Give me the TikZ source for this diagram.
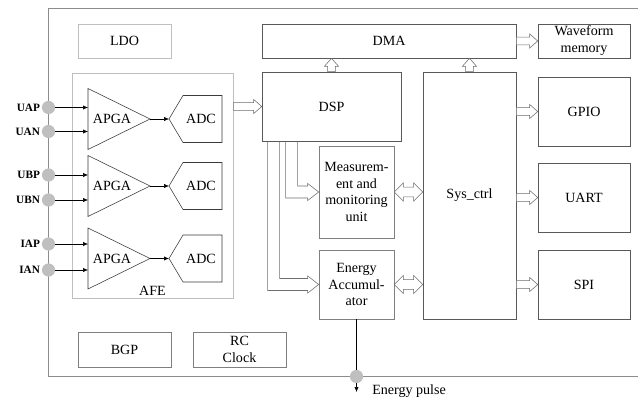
\documentclass[tikz,border=0pt]{standalone}
\usepackage{fontspec}
\setmainfont{Liberation Serif}
\usetikzlibrary{arrows.meta,positioning,calc}
\definecolor{boxcol}{HTML}{595959}
\definecolor{lightcol}{HTML}{BFBFBF}
\definecolor{midcol}{HTML}{7F7F7F}
\definecolor{chipcol}{HTML}{8C8C8C}
\definecolor{pincol}{HTML}{BFBFBF}
\definecolor{arrcol}{HTML}{6E6E6E}
\definecolor{partcol}{HTML}{3A3A3A}
\tikzset{
  block/.style={
    rectangle, draw=#1, thin, inner sep=1pt,
    align=center, font=\fontsize{10}{12}\selectfont,
  },
  block/.default={boxcol},
  txt/.style={inner sep=0pt, font=\fontsize{10}{12}\selectfont},
  part/.style={draw=partcol, thin},
  pin/.style={circle, fill=pincol, minimum size=0.33cm, inner sep=0pt, label distance=2pt},
  pinname/.style={font=\fontsize{8}{9.6}\selectfont\bfseries, inner sep=1pt},
  sig/.style={-{Latex[length=3.5pt,width=3pt]}, thin, black},
  hollow/.style={draw=arrcol, fill=white, thin, to path={
    let \p1=(\tikztostart), \p2=(\tikztotarget),
        \n1={atan2(\y2-\y1,\x2-\x1)}, \n2={veclen(\x2-\x1,\y2-\y1)} in
    [shift={(\p1)}, rotate=\n1]
    (0pt,-2.7pt) -- ({\n2-5.7pt},-2.7pt) -- ({\n2-5.7pt},-5pt) -- ({\n2*1pt},0pt)
    -- ({\n2-5.7pt},5pt) -- ({\n2-5.7pt},2.7pt) -- (0pt,2.7pt) -- cycle}},
  hollowboth/.style={draw=arrcol, fill=white, thin, to path={
    let \p1=(\tikztostart), \p2=(\tikztotarget),
        \n1={atan2(\y2-\y1,\x2-\x1)}, \n2={veclen(\x2-\x1,\y2-\y1)} in
    [shift={(\p1)}, rotate=\n1]
    (0pt,0pt) -- (6.5pt,6.5pt) -- (6.5pt,3.5pt) -- ({\n2-6.5pt},3.5pt) -- ({\n2-6.5pt},6.5pt)
    -- ({\n2*1pt},0pt) -- ({\n2-6.5pt},-6.5pt) -- ({\n2-6.5pt},-3.5pt) -- (6.5pt,-3.5pt)
    -- (6.5pt,-6.5pt) -- cycle}},
  bent/.style={draw=arrcol, thin},
}

\begin{document}
\begin{tikzpicture}[x=0.025cm, y=-0.025cm]
\useasboundingbox (0,0) rectangle (638,400);

% chip outline
\draw[chipcol, line width=0.7pt] (638,8.5) -| (48.5,376.5) -- (638,376.5);

% ===== support blocks =====
\node[block=lightcol, minimum width=2.325cm, minimum height=0.85cm] (ldo) at (124.5,41) {LDO};
\node[block=midcol, minimum width=2.325cm, minimum height=0.875cm] (bgp) at (124.5,349.5) {BGP};
\node[block=midcol, minimum width=2.325cm, minimum height=0.875cm] (rcclk) at (239.5,349.5) {RC\\Clock};

% ===== analog front end =====
\node[block=lightcol, minimum width=4.025cm, minimum height=5.625cm] (afe) at (152.5,185.5) {};
\node[txt, above=2pt of afe.south] (afetxt) {AFE};

\foreach \ch/\yc/\pa/\ya/\pb/\yb in {1/119/UAP/107.5/UAN/131.5, 2/186/UBP/175/UBN/200, 3/258.5/IAP/244/IAN/270}{
  \node[pin, label={[pinname]left:\pa}] (\pa) at (48.5,\ya) {};
  \node[pin, label={[pinname]left:\pb}] (\pb) at (48.5,\yb) {};
  \draw[part] (88,\yc-30.5) coordinate (apgain\ch) -- (150,\yc) coordinate (apga\ch)
    -- (88,\yc+30.5) -- cycle;
  \node[txt] (apgatxt\ch) at (112,\yc) {APGA};
  \draw[part] (169,\yc) coordinate (adc\ch) -- (183,\yc-23.5) -- (222,\yc-23.5)
    -- (222,\yc+23.5) -- (183,\yc+23.5) -- cycle;
  \node[txt] (adctxt\ch) at (201,\yc) {ADC};
  \draw[sig] (\pa) -- (\pa -| apgain\ch);
  \draw[sig] (\pb) -- (\pb -| apgain\ch);
  \draw[sig] (apga\ch) -- (adc\ch);
}

% ===== digital part =====
\node[block, minimum width=3.475cm, minimum height=1.725cm] (dsp) at (331.5,106.5) {DSP};
\node[block, minimum width=6.35cm, minimum height=0.85cm] (dma) at (389,41) {DMA};
\node[block, minimum width=2.325cm, minimum height=6.175cm] (sysctrl) at (469.5,195.5) {Sys\_ctrl};
\node[block=midcol, minimum width=1.875cm, minimum height=2.3cm] (meas) at (356.5,192) {Measurem-\\ent and\\monitoring\\unit};
\node[block=midcol, minimum width=1.875cm, minimum height=1.725cm] (energy) at (356.5,284.5) {Energy\\Accumul-\\ator};

\node[block, minimum width=2.3cm, minimum height=0.85cm] (wave) at (584,41) {Waveform\\memory};
\node[block, minimum width=2.3cm, minimum height=1.725cm] (gpio) at (584,111.5) {GPIO};
\node[block, minimum width=2.3cm, minimum height=1.725cm] (uart) at (584,197.5) {UART};
\node[block, minimum width=2.3cm, minimum height=1.725cm] (spi) at (584,284.5) {SPI};

% ===== buses =====
\draw[hollow] (afe.east |- dsp.west) to (dsp.west);
\draw[hollow] (dsp.north) to (dsp.north |- dma.south);
\draw[hollow] (sysctrl.north) to (sysctrl.north |- dma.south);
\draw[hollow] (dma.east |- wave.west) to (wave.west);
\draw[hollow] (sysctrl.east |- gpio.west) to (gpio.west);
\draw[hollow] (sysctrl.east |- uart.west) to (uart.west);
\draw[hollow] (sysctrl.east |- spi.west) to (spi.west);
\draw[hollowboth] (meas.east) to (meas.east -| sysctrl.west);
\draw[hollowboth] (energy.east) to (energy.east -| sysctrl.west);

\draw[bent] ($(dsp.south west)+(24,0)$) |- ($(meas.west)+(-11,6)$) -- ++(0,2.5)
  -- (meas.west) -- ++(-11,-8.5) -- ++(0,2.5) -| ($(dsp.south west)+(36,0)$);
\draw[bent] ($(dsp.south west)+(6,0)$) |- ($(energy.west)+(-11,6)$) -- ++(0,2.5)
  -- (energy.west) -- ++(-11,-8.5) -- ++(0,2.5) -| ($(dsp.south west)+(18,0)$);

% ===== energy pulse output =====
\node[pin] (epin) at (energy.south |- 0,376.5) {};
\coordinate (pulse) at (energy.south |- 0,392);
\draw[black, thin] (energy.south) -- (epin.north);
\draw[sig] (epin.south) -- (pulse);
\node[txt, anchor=base west] (pulsetxt) at (372,394.5) {Energy pulse};

\end{tikzpicture}
\end{document}
